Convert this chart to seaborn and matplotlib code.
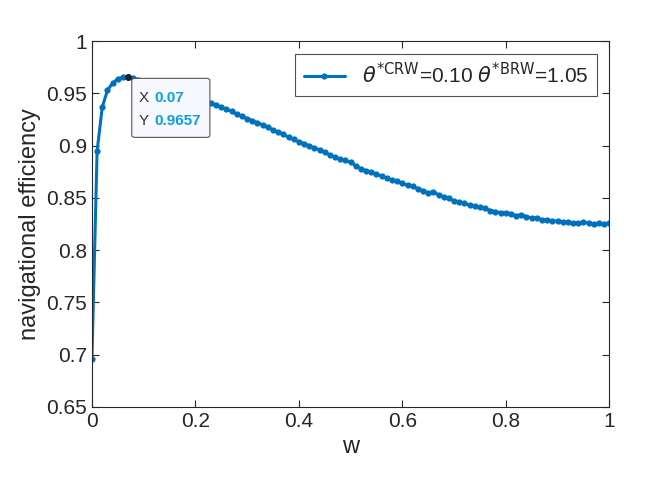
import numpy as np
import matplotlib
matplotlib.use("Agg")
import matplotlib.pyplot as plt
import seaborn as sns
import pandas as pd
from matplotlib.patches import FancyBboxPatch

w = [round(i * 0.01, 2) for i in range(101)]
eff = [0.696, 0.895, 0.937, 0.953, 0.960, 0.964, 0.9655, 0.9657, 0.965, 0.963,
       0.962, 0.960, 0.959, 0.957, 0.956, 0.954, 0.953, 0.951, 0.949, 0.948,
       0.946, 0.944, 0.942, 0.941, 0.939, 0.937, 0.935, 0.933, 0.930, 0.928,
       0.926, 0.924, 0.922, 0.920, 0.918, 0.915, 0.913, 0.911, 0.908, 0.906,
       0.904, 0.902, 0.900, 0.898, 0.896, 0.894, 0.891, 0.889, 0.887, 0.886,
       0.884, 0.881, 0.878, 0.876, 0.875, 0.873, 0.871, 0.869, 0.867, 0.866,
       0.864, 0.862, 0.861, 0.859, 0.857, 0.855, 0.856, 0.853, 0.851, 0.850,
       0.847, 0.846, 0.845, 0.843, 0.842, 0.841, 0.840, 0.838, 0.837, 0.836,
       0.836, 0.835, 0.833, 0.834, 0.832, 0.831, 0.831, 0.829, 0.829, 0.828,
       0.828, 0.827, 0.827, 0.826, 0.826, 0.827, 0.826, 0.825, 0.826, 0.825,
       0.826]
label = r"$\theta^{*\mathrm{CRW}}$=0.10 $\theta^{*\mathrm{BRW}}$=1.05"
tip_x, tip_y = 0.07, 0.9657

sns.set_style("ticks")
plt.rcParams["font.family"] = ["Liberation Sans", "DejaVu Sans"]

df = pd.DataFrame({"w": w, "eff": eff})
fig = plt.figure(figsize=(6.71, 5.03), dpi=100)
ax = fig.add_axes([0.137, 0.191, 0.771, 0.727])
sns.lineplot(data=df, x="w", y="eff", ax=ax, color="#0072BD", linewidth=2.2,
             marker="o", markersize=4.5, markeredgewidth=0, label=label)
ax.plot([tip_x], [tip_y], "o", color="#222222", markersize=4, zorder=5)

ax.set_xlim(0, 1)
ax.set_ylim(0.65, 1)
ax.set_xticks([0, 0.2, 0.4, 0.6, 0.8, 1])
ax.set_xticklabels(["0", "0.2", "0.4", "0.6", "0.8", "1"])
ax.set_yticks(np.arange(0.65, 1.001, 0.05))
ax.set_yticklabels(["0.65", "0.7", "0.75", "0.8", "0.85", "0.9", "0.95", "1"])
ax.tick_params(labelsize=15, direction="in", length=5, colors="#262626", top=True, right=True)
ax.set_xlabel("w", fontsize=17, color="#262626")
ax.set_ylabel("navigational efficiency", fontsize=17, color="#262626")
for s in ax.spines.values():
    s.set_color("#262626")
    s.set_linewidth(0.8)

leg = ax.legend(loc="upper right", fontsize=15, frameon=True, fancybox=False,
                handlelength=2.0, borderaxespad=0.6)
leg.get_frame().set_edgecolor("#262626")
leg.get_frame().set_linewidth(0.8)

ax.add_patch(FancyBboxPatch((0.077, 0.908), 0.151, 0.0565,
                            boxstyle="round,pad=0,rounding_size=0.006",
                            facecolor="#F8F9FF", edgecolor="#555555", linewidth=0.8,
                            mutation_aspect=0.35, zorder=4))
ax.text(0.090, 0.9455, "X", fontsize=11, color="#333333", va="center", zorder=6)
ax.text(0.121, 0.9455, "0.07", fontsize=11, color="#0A9FEA", fontweight="bold", va="center", zorder=6)
ax.text(0.090, 0.9235, "Y", fontsize=11, color="#333333", va="center", zorder=6)
ax.text(0.121, 0.9235, "0.9657", fontsize=11, color="#0A9FEA", fontweight="bold", va="center", zorder=6)

fig.savefig("out.png", dpi=100)
